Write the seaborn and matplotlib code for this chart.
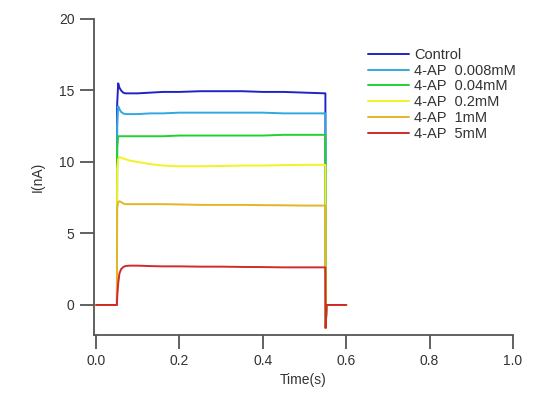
import matplotlib
matplotlib.use("Agg")
import matplotlib.pyplot as plt
import seaborn as sns
import pandas as pd

# Time points (s)
time_s = [0.0, 0.050, 0.0505, 0.053, 0.056, 0.060, 0.065, 0.070, 0.080, 0.100,
          0.130, 0.160, 0.200, 0.250, 0.300, 0.350, 0.400, 0.450, 0.500, 0.550,
          0.5505, 0.553, 0.600]

series_names = ["Control", "4-AP  0.008mM", "4-AP  0.04mM", "4-AP  0.2mM",
                "4-AP  1mM", "4-AP  5mM"]

control = [0, 0, 14.0, 15.5, 15.2, 15.0, 14.85, 14.8, 14.8, 14.8, 14.85, 14.9, 14.9,
           14.95, 14.95, 14.95, 14.9, 14.9, 14.85, 14.8, -1.6, 0, 0]
ap_0008 = [0, 0, 12.5, 13.9, 13.7, 13.5, 13.4, 13.35, 13.35, 13.35, 13.4, 13.4, 13.45,
           13.45, 13.45, 13.45, 13.45, 13.4, 13.4, 13.4, -1.6, 0, 0]
ap_004 = [0, 0, 11.0, 11.8, 11.8, 11.8, 11.8, 11.8, 11.8, 11.8, 11.8, 11.8, 11.85,
          11.85, 11.85, 11.85, 11.85, 11.9, 11.9, 11.9, -1.6, 0, 0]
ap_02 = [0, 0, 9.5, 10.2, 10.35, 10.3, 10.25, 10.2, 10.1, 10.0, 9.85, 9.75, 9.7,
         9.7, 9.72, 9.75, 9.75, 9.78, 9.8, 9.8, -1.6, 0, 0]
ap_1 = [0, 0, 6.8, 7.2, 7.25, 7.2, 7.1, 7.05, 7.05, 7.05, 7.05, 7.05, 7.03,
        7.0, 7.0, 7.0, 6.98, 6.97, 6.95, 6.95, -1.6, 0, 0]
ap_5 = [0, 0, 0.5, 1.5, 2.2, 2.5, 2.65, 2.72, 2.75, 2.75, 2.72, 2.7, 2.7,
        2.68, 2.68, 2.66, 2.65, 2.63, 2.63, 2.63, -1.6, 0, 0]

colors = ["#2222c4", "#32a8e0", "#22d030", "#f2f224", "#e2b428", "#d02a2a"]

all_vals = [control, ap_0008, ap_004, ap_02, ap_1, ap_5]
rows = []
for name, vals in zip(series_names, all_vals):
    for t, v in zip(time_s, vals):
        rows.append({"t": t, "I": v, "series": name})
df = pd.DataFrame(rows)

sns.set_style("ticks")
plt.rcParams["font.family"] = ["Liberation Sans", "DejaVu Sans"]

fig = plt.figure(figsize=(5.38, 4.03), dpi=100)
ax = fig.add_axes([94/538, 1-335/403, (513-94)/538, (335-19)/403])

sns.lineplot(data=df, x="t", y="I", hue="series", hue_order=series_names,
             palette=colors, ax=ax, linewidth=1.4, sort=False, estimator=None,
             legend=True)

ax.set_xlim(-0.005, 1.0)
ax.set_ylim(-2.1, 20)
ax.set_xticks([0.0, 0.2, 0.4, 0.6, 0.8, 1.0])
ax.set_xticklabels(["0.0", "0.2", "0.4", "0.6", "0.8", "1.0"])
ax.set_yticks([0, 5, 10, 15, 20])
ax.set_xlabel("Time(s)", fontsize=10, color="#333333", labelpad=3)
ax.set_ylabel("I(nA)", fontsize=10, color="#333333", labelpad=10)
ax.tick_params(axis="both", direction="out", length=10, width=1.3,
               color="#555555", labelsize=10, labelcolor="#333333", pad=4)
for side in ["top", "right"]:
    ax.spines[side].set_visible(False)
for side in ["left", "bottom"]:
    ax.spines[side].set_color("#555555")
    ax.spines[side].set_linewidth(1.3)
ax.spines["left"].set_bounds(-2.1, 20)

leg = ax.legend(loc="upper left", bbox_to_anchor=(368/538, 1-48/403),
                bbox_transform=fig.transFigure, frameon=False, fontsize=10.5,
                handlelength=2.8, handletextpad=0.35, labelspacing=0.12,
                borderpad=0, borderaxespad=0)
for txt in leg.get_texts():
    txt.set_color("#333333")

fig.savefig("out.png", dpi=100)
